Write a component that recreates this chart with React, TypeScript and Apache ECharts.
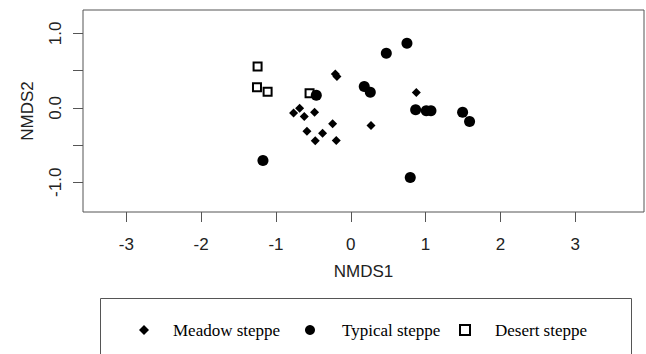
import React, { useEffect, useRef } from "react";
import * as echarts from "echarts";

const meadowSteppe: [number, number][] = [
  [-0.207, 0.456], [-0.185, 0.42], [-0.684, -0.004], [-0.765, -0.071],
  [-0.622, -0.116], [-0.484, -0.058], [-0.243, -0.215], [-0.586, -0.313],
  [-0.377, -0.34], [-0.475, -0.443], [-0.194, -0.438], [0.876, 0.206],
  [0.27, -0.237],
];
const typicalSteppe: [number, number][] = [
  [-0.461, 0.17], [-1.174, -0.707], [0.751, 0.868], [0.475, 0.734],
  [0.18, 0.286], [0.261, 0.21], [0.867, -0.027], [1.009, -0.04],
  [1.072, -0.04], [1.495, -0.058], [1.588, -0.184], [0.795, -0.935],
];
const desertSteppe: [number, number][] = [
  [-1.246, 0.554], [-1.254, 0.278], [-1.112, 0.215], [-0.551, 0.197],
];
const xTicks = [-3, -2, -1, 0, 1, 2, 3];
const yTicks = [-1, -0.5, 0, 0.5, 1];
const yLabels = [-1, 0, 1];
const seriesNames = ["Meadow steppe", "Typical steppe", "Desert steppe"];

export default function App() {
  const ref = useRef<HTMLDivElement>(null);
  useEffect(() => {
    if (!ref.current) return;
    const chart = echarts.init(ref.current, undefined, { renderer: "svg" });
    const sans = "'Liberation Sans', Arial, sans-serif";
    const serif = "'Liberation Serif', 'Times New Roman', serif";
    chart.setOption({
      animation: false,
      backgroundColor: "#fff",
      grid: {
        left: 83, right: 2, top: 10, bottom: 142,
        show: true, borderColor: "#555", borderWidth: 1,
      },
      xAxis: {
        type: "value", min: -3.58, max: 3.92,
        name: "NMDS1", nameLocation: "middle", nameGap: 51,
        nameTextStyle: { fontFamily: sans, fontSize: 17, color: "#222" },
        axisLine: { show: false, onZero: false },
        splitLine: { show: false },
        axisTick: { show: true, length: 10, customValues: xTicks, lineStyle: { color: "#555" } },
        axisLabel: { customValues: xTicks, margin: 24, fontFamily: sans, fontSize: 17, color: "#222" },
      },
      yAxis: {
        type: "value", min: -1.4, max: 1.315,
        name: "NMDS2", nameLocation: "middle", nameGap: 47,
        nameTextStyle: { fontFamily: sans, fontSize: 17, color: "#222" },
        axisLine: { show: false, onZero: false },
        splitLine: { show: false },
        axisTick: { show: true, length: 10, customValues: yTicks, lineStyle: { color: "#555" } },
        axisLabel: {
          customValues: yLabels, rotate: 90, margin: 19,
          fontFamily: sans, fontSize: 17, color: "#222",
          formatter: (v: number) => v.toFixed(1),
        },
      },
      legend: {
        left: 134, top: 315, itemGap: 0, itemWidth: 10, itemHeight: 10,
        textStyle: { fontFamily: serif, fontSize: 17, color: "#000", lineHeight: 20 },
        data: [
          { name: seriesNames[0], icon: "diamond", textStyle: { width: 132, padding: [0, 0, 0, 19] } },
          { name: seriesNames[1], icon: "circle", textStyle: { width: 117, padding: [0, 0, 0, 22] } },
          { name: seriesNames[2], icon: "rect", textStyle: { width: 110, padding: [0, 0, 0, 20] } },
        ],
      },
      graphic: [
        {
          type: "rect", left: 98, top: 296,
          shape: { width: 531, height: 57 },
          style: { fill: "none", stroke: "#555", lineWidth: 1 },
        },
      ],
      series: [
        {
          name: seriesNames[0], type: "scatter", symbol: "diamond", symbolSize: 9, z: 3,
          itemStyle: { color: "#000", opacity: 1 }, data: meadowSteppe,
        },
        {
          name: seriesNames[1], type: "scatter", symbol: "circle", symbolSize: 11, z: 3,
          itemStyle: { color: "#000", opacity: 1 }, data: typicalSteppe,
        },
        {
          name: seriesNames[2], type: "scatter", symbol: "rect", symbolSize: 8, z: 2,
          itemStyle: { color: "#fff", borderColor: "#000", borderWidth: 2, opacity: 1 }, data: desertSteppe,
        },
      ],
    });
    return () => chart.dispose();
  }, []);
  return (
    <div
      ref={ref}
      style={{ position: "fixed", left: 0, top: 0, width: 646, height: 354, background: "#fff" }}
    />
  );
}
